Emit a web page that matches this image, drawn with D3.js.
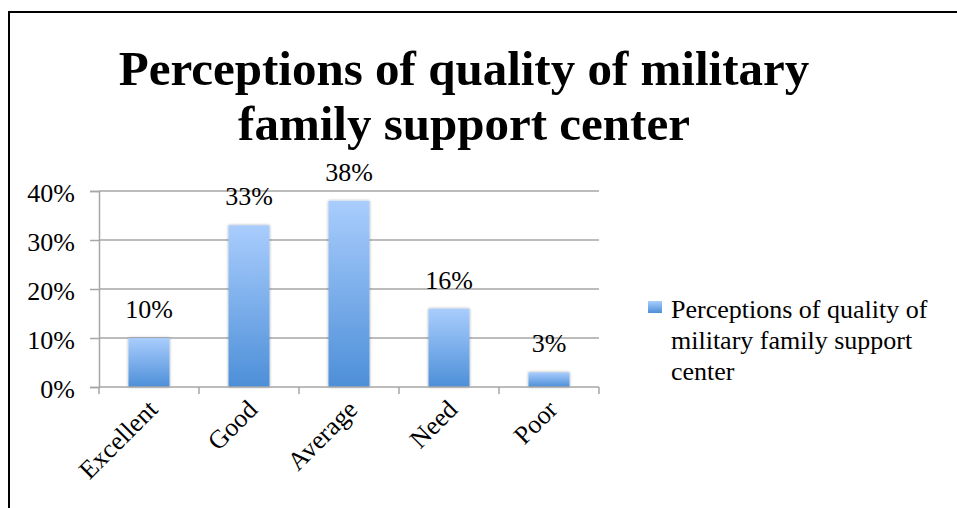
<!DOCTYPE html>
<html>
<head>
<meta charset="utf-8">
<script src="https://cdn.jsdelivr.net/npm/d3@7"></script>
<style>
  html, body { margin: 0; padding: 0; background: #fff; }
  svg { display: block; }
  text { font-family: "Liberation Serif", "Times New Roman", serif; fill: #000; }
</style>
</head>
<body>
<svg id="chart" width="957" height="508"></svg>
<script>
// Survey results: perceived quality of the military family support center
const categories = ["Excellent", "Good", "Average", "Need", "Poor"];
const values = [0.10, 0.33, 0.38, 0.16, 0.03];
const yTicks = [0, 0.1, 0.2, 0.3, 0.4];
const titleLines = ["Perceptions of quality of military", "family support center"];
const seriesName = ["Perceptions of quality of", "military family support", "center"];

const W = 957, H = 508;
const plot = { left: 99, right: 599, top: 191, bottom: 387 };
const labelSize = "26px";

const svg = d3.select("#chart");

// gradient + soft shadow for the bars
const defs = svg.append("defs");
const grad = defs.append("linearGradient")
  .attr("id", "barGrad").attr("x1", 0).attr("y1", 0).attr("x2", 0).attr("y2", 1);
grad.append("stop").attr("offset", "0%").attr("stop-color", "#a9cdfd");
grad.append("stop").attr("offset", "100%").attr("stop-color", "#4d8fd8");

const shadow = defs.append("filter").attr("id", "barShadow")
  .attr("x", "-20%").attr("y", "-20%").attr("width", "140%").attr("height", "140%");
shadow.append("feGaussianBlur").attr("in", "SourceAlpha").attr("stdDeviation", 1.5).attr("result", "b");
shadow.append("feComponentTransfer").attr("in", "b").attr("result", "s")
  .append("feFuncA").attr("type", "linear").attr("slope", 0.35);
const merge = shadow.append("feMerge");
merge.append("feMergeNode").attr("in", "s");
merge.append("feMergeNode").attr("in", "SourceGraphic");

// outer frame
svg.append("rect")
  .attr("x", 9).attr("y", 12).attr("width", W + 10).attr("height", H + 10)
  .attr("fill", "none").attr("stroke", "#000").attr("stroke-width", 2);

// title
const title = svg.append("text")
  .attr("text-anchor", "middle")
  .style("font-weight", "bold").style("font-size", "49px");
titleLines.forEach((line, i) => {
  title.append("tspan").attr("x", 464).attr("y", 85 + i * 55).text(line);
});

// scales
const x = d3.scaleBand().domain(categories).range([plot.left, plot.right])
  .paddingInner(0.59).paddingOuter(0.295);
const y = d3.scaleLinear().domain([0, 0.4]).range([plot.bottom, plot.top]);

// gridlines
svg.append("g").selectAll("line").data(yTicks.filter(d => d > 0)).join("line")
  .attr("x1", plot.left).attr("x2", plot.right)
  .attr("y1", d => y(d)).attr("y2", d => y(d))
  .attr("stroke", "#a6a6a6").attr("stroke-width", 1.5);

// y axis
const yAxis = svg.append("g")
  .attr("transform", `translate(${plot.left},0)`)
  .call(d3.axisLeft(y).tickValues(yTicks).tickFormat(d3.format(".0%")).tickSize(9).tickPadding(15));
yAxis.select(".domain").attr("stroke", "#a6a6a6").attr("stroke-width", 1.5);
yAxis.selectAll(".tick line").attr("stroke", "#a6a6a6").attr("stroke-width", 1.5);
yAxis.selectAll(".tick text")
  .style("font-family", "'Liberation Serif', 'Times New Roman', serif")
  .style("font-size", labelSize).attr("fill", "#000").attr("dy", "0.42em");

// bars
svg.append("g").selectAll("rect").data(values).join("rect")
  .attr("x", (d, i) => x(categories[i]))
  .attr("width", x.bandwidth())
  .attr("y", d => y(d))
  .attr("height", d => y(0) - y(d))
  .attr("fill", "url(#barGrad)")
  .attr("filter", "url(#barShadow)");

// x axis with ticks between categories
const boundaries = d3.range(categories.length + 1).map(i => plot.left + i * x.step());
const xAxisG = svg.append("g");
xAxisG.append("line")
  .attr("x1", plot.left).attr("x2", plot.right)
  .attr("y1", plot.bottom).attr("y2", plot.bottom)
  .attr("stroke", "#a6a6a6").attr("stroke-width", 1.5);
xAxisG.selectAll("line.tk").data(boundaries).join("line").attr("class", "tk")
  .attr("x1", d => d).attr("x2", d => d)
  .attr("y1", plot.bottom).attr("y2", plot.bottom + 7)
  .attr("stroke", "#a6a6a6").attr("stroke-width", 1.5);

// rotated category labels
svg.append("g").selectAll("text").data(categories).join("text")
  .attr("text-anchor", "end")
  .style("font-size", labelSize)
  .attr("transform", d => {
    const cx = x(d) + x.bandwidth() / 2 + 10;
    return `translate(${cx},${plot.bottom + 24}) rotate(-45)`;
  })
  .text(d => d);

// data labels
svg.append("g").selectAll("text").data(values).join("text")
  .attr("text-anchor", "middle")
  .style("font-size", labelSize)
  .attr("x", (d, i) => x(categories[i]) + x.bandwidth() / 2)
  .attr("y", d => y(d) - 20)
  .text(d => d3.format(".0%")(d));

// legend
const legend = svg.append("g");
legend.append("rect")
  .attr("x", 648).attr("y", 301).attr("width", 14).attr("height", 12)
  .attr("fill", "url(#barGrad)");
const lt = legend.append("text").style("font-size", labelSize);
seriesName.forEach((line, i) => {
  lt.append("tspan").attr("x", 671).attr("y", 318 + i * 31).text(line);
});
</script>
</body>
</html>
